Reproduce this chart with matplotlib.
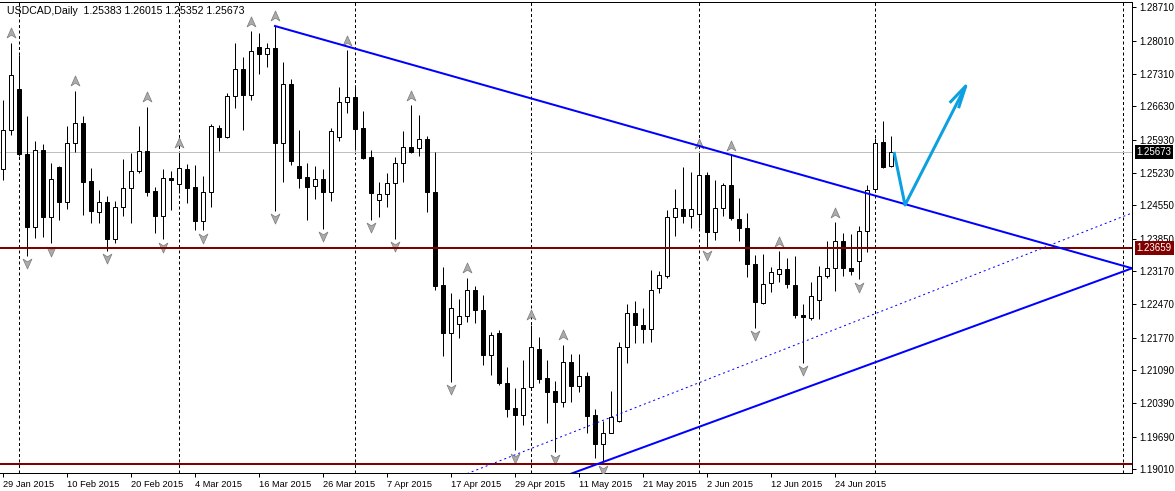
import matplotlib
matplotlib.use('Agg')
import matplotlib.pyplot as plt
import matplotlib.transforms as mtransforms
from matplotlib.path import Path

plt.rcParams['font.family'] = ['Liberation Sans', 'DejaVu Sans']

symbol = 'USDCAD,Daily'

# daily candles, 29 Jan 2015 .. 3 Jul 2015 (one per weekday)
opens = [1.2531, 1.2613, 1.2699, 1.2562, 1.2410, 1.2571, 1.2430, 1.2535, 1.2463, 1.2585,
         1.2627, 1.2506, 1.2441, 1.2462, 1.2385, 1.2451, 1.2491, 1.2527, 1.2569, 1.2485,
         1.2433, 1.2513, 1.2499, 1.2531, 1.2494, 1.2423, 1.2483, 1.2618, 1.2598, 1.2684,
         1.2741, 1.2687, 1.2787, 1.2772, 1.2785, 1.2585, 1.2709, 1.2538, 1.2514, 1.2495,
         1.2510, 1.2483, 1.2598, 1.2672, 1.2682, 1.2618, 1.2556, 1.2466, 1.2478, 1.2501,
         1.2543, 1.2577, 1.2575, 1.2594, 1.2483, 1.2287, 1.2186, 1.2205, 1.2222, 1.2277,
         1.2235, 1.2141, 1.2186, 1.2081, 1.2030, 1.2015, 1.2073, 1.2153, 1.2092, 1.2065,
         1.2043, 1.2126, 1.2076, 1.2097, 1.2014, 1.1953, 1.1978, 1.2002, 1.2157, 1.2228,
         1.2203, 1.2195, 1.2281, 1.2306, 1.2430, 1.2447, 1.2432, 1.2436, 1.2518, 1.2399,
         1.2449, 1.2497, 1.2426, 1.2407, 1.2331, 1.2249, 1.2291, 1.2310, 1.2321, 1.2287,
         1.2224, 1.2218, 1.2256, 1.2306, 1.2323, 1.2380, 1.2323, 1.2338, 1.2401, 1.2489,
         1.2588, 1.25383]
highs = [1.2676, 1.2797, 1.2771, 1.2643, 1.2590, 1.2584, 1.2544, 1.2538, 1.2622, 1.2696,
         1.2643, 1.2534, 1.2487, 1.2475, 1.2464, 1.2553, 1.2564, 1.2622, 1.2662, 1.2493,
         1.2531, 1.2527, 1.2566, 1.2542, 1.2540, 1.2517, 1.2625, 1.2623, 1.2690, 1.2797,
         1.2767, 1.2821, 1.2817, 1.2797, 1.2832, 1.2756, 1.2720, 1.2614, 1.2544, 1.2538,
         1.2531, 1.2618, 1.2703, 1.2781, 1.2707, 1.2653, 1.2571, 1.2504, 1.2522, 1.2557,
         1.2611, 1.2665, 1.2644, 1.2601, 1.2568, 1.2326, 1.2270, 1.2258, 1.2303, 1.2286,
         1.2267, 1.2190, 1.2193, 1.2116, 1.2072, 1.2131, 1.2204, 1.2178, 1.2131, 1.2086,
         1.2162, 1.2143, 1.2143, 1.2106, 1.2028, 1.2003, 1.2065, 1.2168, 1.2248, 1.2254,
         1.2240, 1.2319, 1.2317, 1.2445, 1.2489, 1.2536, 1.2525, 1.2564, 1.2525, 1.2508,
         1.2502, 1.2560, 1.2471, 1.2438, 1.2350, 1.2352, 1.2326, 1.2359, 1.2345, 1.2349,
         1.2248, 1.2294, 1.2327, 1.2381, 1.2420, 1.2397, 1.2394, 1.2411, 1.2497, 1.2597,
         1.2633, 1.26015]
lows = [1.2508, 1.2603, 1.2559, 1.2349, 1.2387, 1.2389, 1.2375, 1.2424, 1.2448, 1.2568,
        1.2435, 1.2419, 1.2417, 1.2360, 1.2377, 1.2433, 1.2419, 1.2522, 1.2475, 1.2398,
        1.2384, 1.2445, 1.2480, 1.2459, 1.2403, 1.2403, 1.2452, 1.2570, 1.2596, 1.2660,
        1.2614, 1.2677, 1.2731, 1.2746, 1.2444, 1.2505, 1.2540, 1.2492, 1.2425, 1.2468,
        1.2406, 1.2465, 1.2591, 1.2648, 1.2571, 1.2553, 1.2425, 1.2431, 1.2452, 1.2385,
        1.2505, 1.2565, 1.2559, 1.2442, 1.2278, 1.2139, 1.2085, 1.2177, 1.2211, 1.2209,
        1.2119, 1.2099, 1.2078, 1.2011, 1.1941, 1.1994, 1.2072, 1.2083, 1.1999, 1.1938,
        1.2032, 1.2043, 1.2063, 1.1976, 1.1925, 1.1916, 1.1976, 1.2001, 1.2125, 1.2165,
        1.2165, 1.2169, 1.2272, 1.2302, 1.2391, 1.2419, 1.2408, 1.2408, 1.2367, 1.2382,
        1.2433, 1.2424, 1.2380, 1.2304, 1.2198, 1.2248, 1.2274, 1.2294, 1.2281, 1.2218,
        1.2125, 1.2214, 1.2216, 1.2302, 1.2275, 1.2306, 1.2308, 1.2300, 1.2358, 1.2488,
        1.2534, 1.25352]
closes = [1.2613, 1.2728, 1.2562, 1.2410, 1.2571, 1.2431, 1.2510, 1.2463, 1.2585, 1.2627,
          1.2505, 1.2444, 1.2462, 1.2385, 1.2451, 1.2491, 1.2527, 1.2569, 1.2484, 1.2433,
          1.2512, 1.2508, 1.2533, 1.2492, 1.2423, 1.2483, 1.2621, 1.2598, 1.2684, 1.2741,
          1.2687, 1.2779, 1.2772, 1.2785, 1.2585, 1.2709, 1.2549, 1.2513, 1.2494, 1.2510,
          1.2483, 1.2611, 1.2672, 1.2682, 1.2616, 1.2555, 1.2480, 1.2478, 1.2501, 1.2543,
          1.2577, 1.2567, 1.2594, 1.2483, 1.2286, 1.2186, 1.2239, 1.2222, 1.2277, 1.2235,
          1.2141, 1.2183, 1.2081, 1.2028, 1.2015, 1.2072, 1.2157, 1.2091, 1.2064, 1.2043,
          1.2126, 1.2076, 1.2097, 1.2013, 1.1953, 1.1978, 1.2010, 1.2157, 1.2228, 1.2203,
          1.2195, 1.2277, 1.2308, 1.2430, 1.2449, 1.2432, 1.2447, 1.2518, 1.2399, 1.2449,
          1.2497, 1.2428, 1.2407, 1.2331, 1.2252, 1.2289, 1.2315, 1.2321, 1.2289, 1.2224,
          1.2220, 1.2264, 1.2306, 1.2323, 1.2380, 1.2323, 1.2317, 1.2401, 1.2487, 1.2585,
          1.2536, 1.25673]

tick_bars = [0, 8, 16, 24, 32, 40, 48, 56, 64, 72, 80, 88, 96, 104]
tick_labels = ['29 Jan 2015', '10 Feb 2015', '20 Feb 2015', '4 Mar 2015', '16 Mar 2015',
               '26 Mar 2015', '7 Apr 2015', '17 Apr 2015', '29 Apr 2015', '11 May 2015',
               '21 May 2015', '2 Jun 2015', '12 Jun 2015', '24 Jun 2015']
price_ticks = [1.28710, 1.28010, 1.27310, 1.26630, 1.25930, 1.25230, 1.24550, 1.23850,
               1.23170, 1.22470, 1.21770, 1.21090, 1.20390, 1.19690, 1.19010]

# fractal arrows
up_fractals = [1, 9, 18, 22, 31, 34, 43, 51, 58, 66, 70, 87, 91, 97, 104]
down_fractals = [3, 6, 13, 20, 25, 34, 40, 46, 49, 56, 64, 69, 75, 88, 94, 100, 107]

# monthly period separators (bar index)
separators = [2, 22, 44, 66, 87, 109, 140]

# drawn objects
resist_x = [34, 141.125]
resist_y = [1.28317, 1.23229]
support_x = [70, 141.125]
support_y = [1.18853, 1.23229]
channel_x = [58, 141.125]
channel_y = [1.18916, 1.24390]
levels = [1.23659, 1.19119]
arrow_x = [111.375, 112.75, 120.34]
arrow_y = [1.25673, 1.24558, 1.27057]
barb_x = [118.46, 120.34, 119.5]
barb_y = [1.26727, 1.27057, 1.26622]

fig = plt.figure(figsize=(11.75, 4.91), dpi=100)
ax = fig.add_axes([0, 18.3 / 491, 1132.3 / 1175, 470.4 / 491])
ax.set_xlim(-0.375, 141.16)
ax.set_ylim(1.18936, 1.28815)

px = 0.72  # one pixel in points

for b in separators:
    ax.axvline(b, color='black', lw=px, ls=(0, (3, 2.5)), zorder=1)

bid = closes[-1]
ax.axhline(bid, color='#C0C0C0', lw=px, zorder=1)

n = len(opens)
bars = list(range(n))
ax.vlines(bars, lows, highs, color='black', lw=px, zorder=3)
for i in bars:
    o, c = opens[i], closes[i]
    fc = 'white' if c >= o else 'black'
    h = max(abs(c - o), 0.00003)
    ax.bar(i, h, bottom=min(o, c), width=0.55, color=fc, edgecolor='black',
           linewidth=px, zorder=4)

# fractal markers
up_path = Path([(0, 1), (0.8, -0.8), (0, -0.3), (-0.8, -0.8), (0, 1)],
               [Path.MOVETO, Path.LINETO, Path.LINETO, Path.LINETO, Path.CLOSEPOLY])
down_path = Path([(0, -1), (0.8, 0.8), (0, 0.3), (-0.8, 0.8), (0, -1)],
                 [Path.MOVETO, Path.LINETO, Path.LINETO, Path.LINETO, Path.CLOSEPOLY])
up_trans = ax.transData + mtransforms.ScaledTranslation(0, 9.5 / 100, fig.dpi_scale_trans)
down_trans = ax.transData + mtransforms.ScaledTranslation(0, -7.5 / 100, fig.dpi_scale_trans)
ax.plot(up_fractals, [highs[i] for i in up_fractals], ls='none', marker=up_path,
        ms=8, mfc='#ABABAB', mec='#7A7A7A', mew=0.5, transform=up_trans, zorder=5)
ax.plot(down_fractals, [lows[i] for i in down_fractals], ls='none', marker=down_path,
        ms=8, mfc='#ABABAB', mec='#7A7A7A', mew=0.5, transform=down_trans, zorder=5)

# trend lines, levels and the forecast arrow
for lv in levels:
    ax.axhline(lv, color='#800000', lw=2 * px, zorder=6)
ax.plot(resist_x, resist_y, color='#0000FF', lw=2 * px, zorder=6)
ax.plot(support_x, support_y, color='#0000FF', lw=2 * px, zorder=6)
ax.plot(channel_x, channel_y, color='#0000FF', lw=px, ls=(0, (2, 3)), zorder=6)
ax.plot(arrow_x, arrow_y, color='#0AA0E2', lw=3 * px, zorder=7, solid_capstyle='butt')
ax.plot(barb_x, barb_y, color='#0AA0E2', lw=3 * px, zorder=7)

# axes styling
for side in ['top', 'right', 'bottom']:
    ax.spines[side].set_linewidth(px)
ax.spines['left'].set_visible(False)
ax.yaxis.tick_right()
ax.set_yticks(price_ticks)
ax.set_yticklabels([f'{p:.5f}' for p in price_ticks])
ax.tick_params(axis='y', length=3, width=px, pad=2, labelsize=7)
ax.set_xticks(tick_bars)
ax.set_xticklabels(tick_labels, ha='left')
ax.tick_params(axis='x', length=3, width=px, pad=2, labelsize=6.7)

# price tags on the right
ytrans = ax.get_yaxis_transform()
ax.annotate(f'{bid:.5f}', xy=(1, bid), xycoords=ytrans, xytext=(3, 0),
            textcoords='offset points', va='center', ha='left', fontsize=7,
            color='white', bbox=dict(boxstyle='square,pad=0.2', fc='black', ec='none'),
            annotation_clip=False)
ax.annotate(f'{levels[0]:.5f}', xy=(1, levels[0]), xycoords=ytrans, xytext=(3, 0),
            textcoords='offset points', va='center', ha='left', fontsize=7,
            color='white', bbox=dict(boxstyle='square,pad=0.2', fc='#800000', ec='none'),
            annotation_clip=False)

header = f'{symbol}  {opens[-1]:.5f} {highs[-1]:.5f} {lows[-1]:.5f} {closes[-1]:.5f}'
fig.text(7 / 1175, 1 - 11 / 491, header, fontsize=7.6, va='center', ha='left')

fig.savefig('out.png', dpi=100)
